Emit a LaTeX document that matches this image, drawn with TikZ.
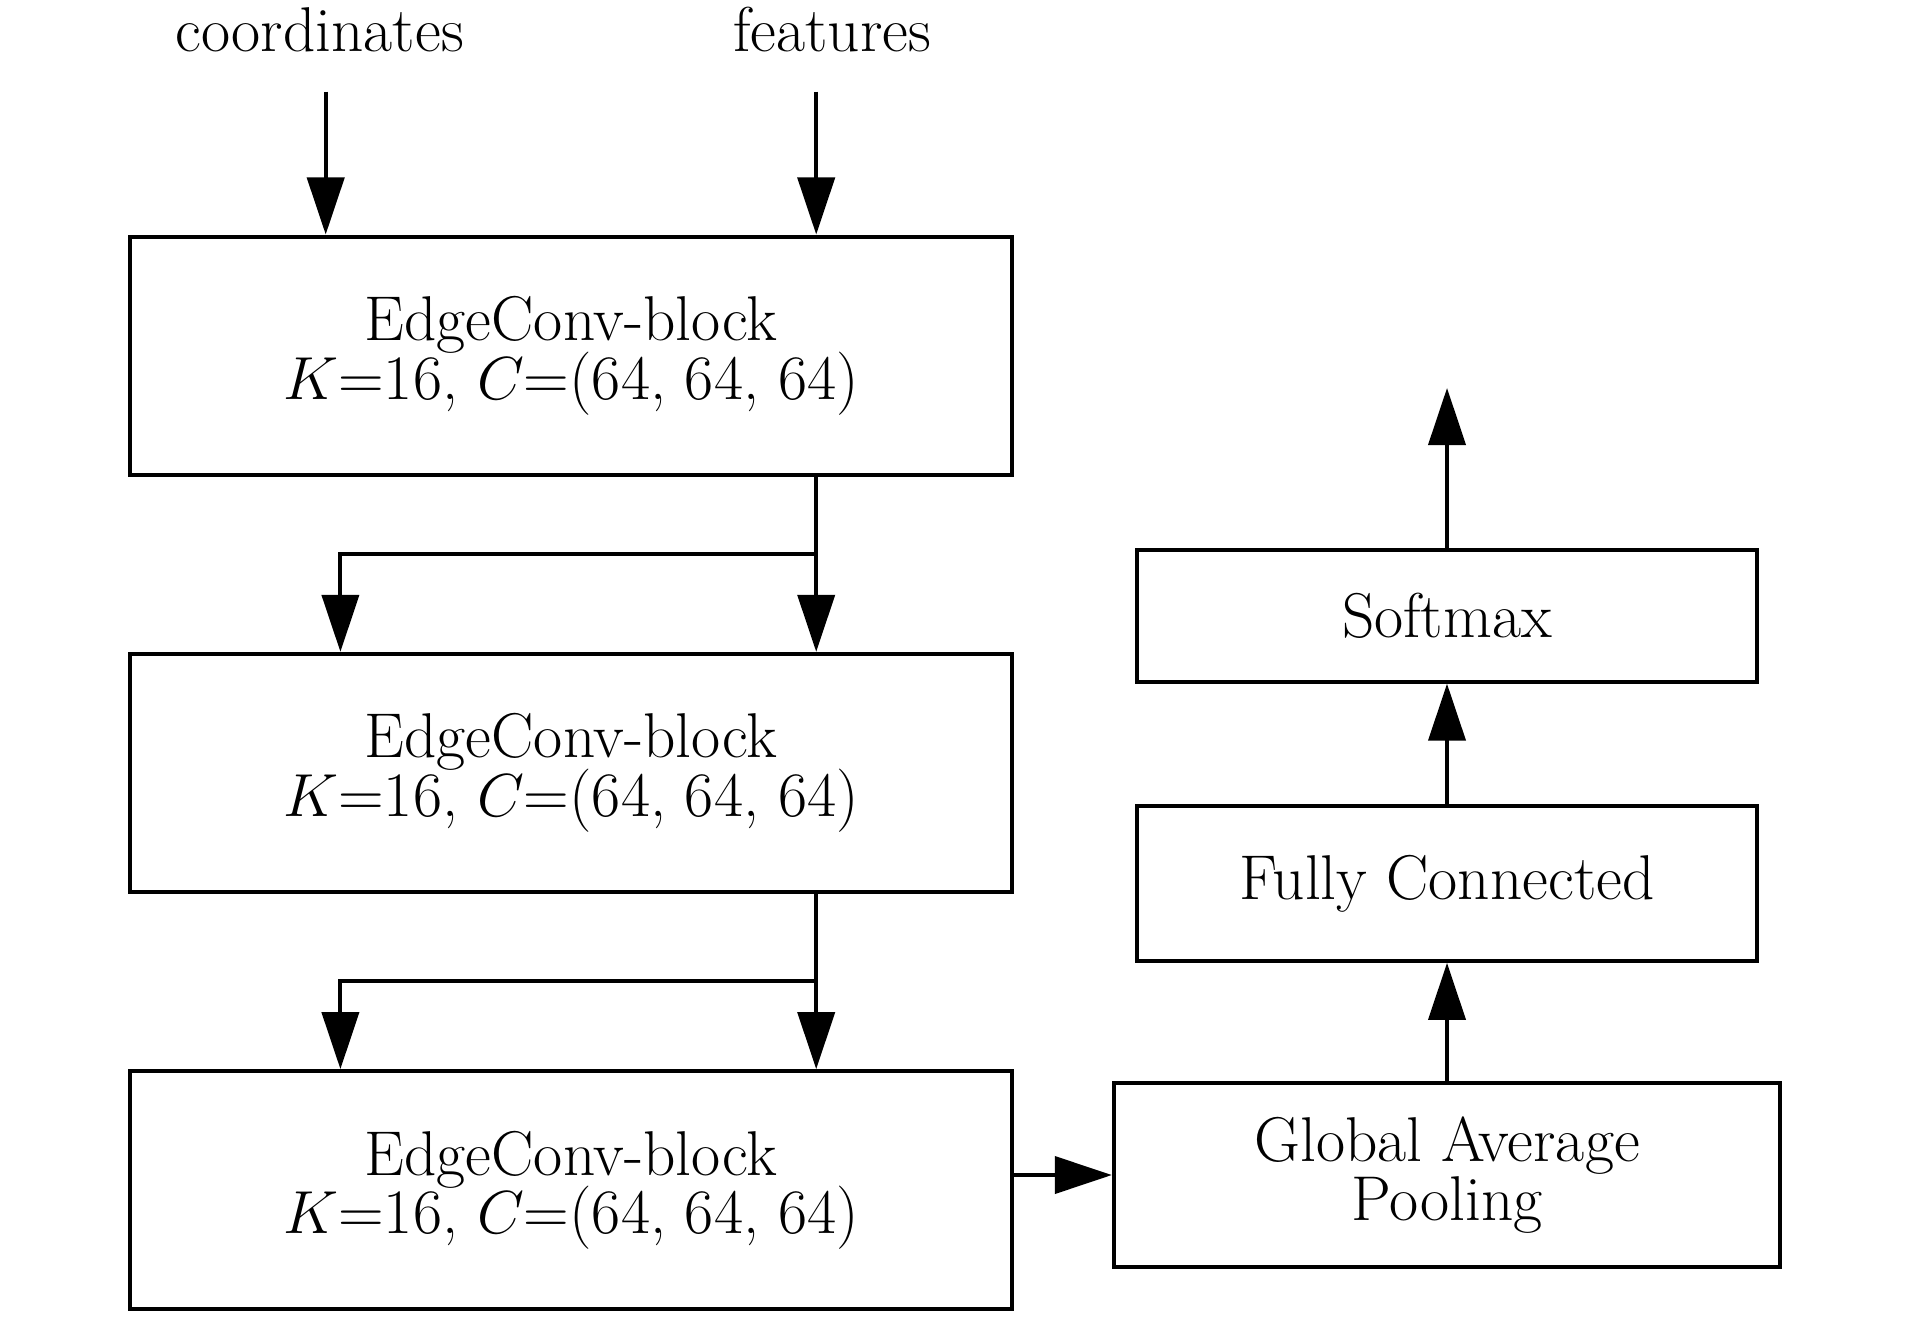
\documentclass[tikz,border=0pt]{standalone}
\usepackage{tikz}
\usetikzlibrary{positioning,arrows.meta}
\newcommand\blockfont{\fontsize{18}{16.6}\selectfont\lineskiplimit=-20pt\relax}

\begin{document}
\begin{tikzpicture}[x=0.01cm,y=-0.01cm,node distance=1.75cm,line width=1.15pt,
    >={Triangle[length=0.57cm,width=0.37cm]},
    every node/.style={font=\blockfont},
    block/.style={rectangle,draw,align=center,inner sep=0pt},
    edgeblock/.style={block,minimum width=8.81cm,minimum height=2.38cm},
    headblock/.style={block,minimum width=6.19cm}]
    \useasboundingbox (0,0) rectangle (1913,1323);
    % inputs
    \node[anchor=base] (coords) at (319.6,51) {coordinates};
    \node[anchor=base] (feats) at (832,51) {features};
    \coordinate (cin) at (325.7,91.5);
    \coordinate (fin) at (816.2,91.5);
    % EdgeConv blocks
    \node[edgeblock] (e1) at (571,355.6) {EdgeConv-block\\$K$=16, $C$=(64, 64, 64)};
    \node[edgeblock] (e2) [below=of e1] {EdgeConv-block\\$K$=16, $C$=(64, 64, 64)};
    \node[edgeblock] (e3) [below=of e2] {EdgeConv-block\\$K$=16, $C$=(64, 64, 64)};
    % head
    \node[block,minimum width=6.66cm,minimum height=1.84cm] (gap) at (1447,1175) {Global Average\\Pooling};
    \node[headblock,minimum height=1.55cm] (fc) [above=1.18cm of gap] {Fully Connected};
    \node[headblock,minimum height=1.32cm] (sm) [above=1.2cm of fc] {Softmax};
    \coordinate (out) at (1444,388);
    % skip points
    \coordinate (s1) at (816.2,553.9);
    \coordinate (l1) at (340.4,553.9);
    \coordinate (s2) at (816.2,980.9);
    \coordinate (l2) at (340.4,980.9);

    \draw[->] (cin) -- (cin |- e1.north);
    \draw[->] (fin) -- (fin |- e1.north);
    \draw[->] (e1.south -| s1) -- (e2.north -| s1);
    \draw[->] (s1) -- (l1) -- (l1 |- e2.north);
    \draw[->] (e2.south -| s2) -- (e3.north -| s2);
    \draw[->] (s2) -- (l2) -- (l2 |- e3.north);
    \draw[->] (e3.east |- gap.west) -- (gap.west);
    \draw[->] (fc.south |- gap.north) -- (fc.south);
    \draw[->] (fc.north) -- (sm.south);
    \draw[->] (sm.north) -- (sm.north |- out);
\end{tikzpicture}
\end{document}
